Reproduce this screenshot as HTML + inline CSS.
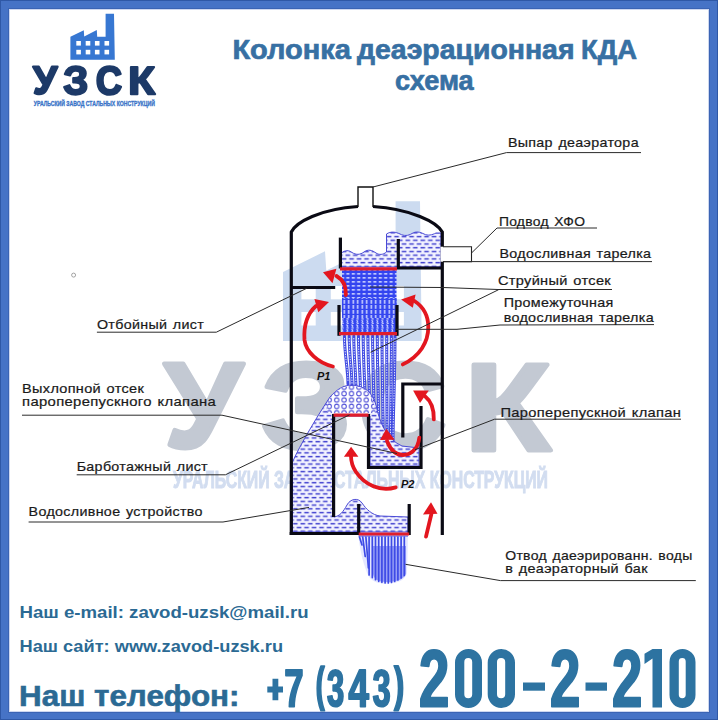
<!DOCTYPE html>
<html><head><meta charset="utf-8">
<style>
html,body{margin:0;padding:0;background:#fff;}
body{width:718px;height:720px;overflow:hidden;position:relative;}
svg{position:absolute;left:0;top:0;display:block;}
text{font-family:"Liberation Sans",sans-serif;}
</style></head>
<body>
<svg width="718" height="720" viewBox="0 0 718 720">
<defs>
  <filter id="soft" x="-5%" y="-5%" width="110%" height="110%"><feGaussianBlur stdDeviation="0.6"/></filter>
  <pattern id="water" width="7.5" height="7.46" patternUnits="userSpaceOnUse">
    <rect x="0.5" y="0.8" width="4.6" height="1.5" fill="#4343cf"/>
    <rect x="4.25" y="4.53" width="4.6" height="1.5" fill="#4343cf"/>
    <rect x="-3.25" y="4.53" width="4.6" height="1.5" fill="#4343cf"/>
  </pattern>
  <pattern id="jetA" width="5.4" height="4" patternUnits="userSpaceOnUse">
    <rect width="5.4" height="4" fill="#3344f0"/>
    <rect x="0.7" y="1.1" width="3.2" height="1.5" fill="#d0d6ff"/>
  </pattern>
  <pattern id="jetB" width="4.5" height="5" patternUnits="userSpaceOnUse">
    <rect width="4.5" height="5" fill="#3446f0"/>
    <rect x="1.5" y="0" width="1.5" height="3.8" fill="#d4daff"/>
  </pattern>
  <pattern id="jetC" width="5" height="4.5" patternUnits="userSpaceOnUse">
    <rect width="5" height="4.5" fill="#3446f0"/>
    <path d="M1,1.2 C2.5,0.3 3.5,1.8 2.3,2.6 C1.2,3.4 2.5,4.4 3.8,3.6" stroke="#d4daff" stroke-width="1" fill="none"/>
  </pattern>
  <pattern id="foam" width="7.4" height="6.4" patternUnits="userSpaceOnUse">
    <circle cx="3.7" cy="3.2" r="2.2" fill="none" stroke="#4a4ad6" stroke-width="1"/>
  </pattern>
  <g id="factory">
    <path d="M70.4,59.8 L70.4,36.8 L83.8,30.3 L84.2,36.4 L96.8,30.1 L97.2,36.8 L105.6,36.8 L105.6,13.8 L114,13.8 L114.8,59.8 Z"/>
  </g>
</defs>

<!-- frame -->
<rect x="0" y="0" width="718" height="720" fill="#4673c6"/>
<rect x="0.5" y="0.5" width="717" height="719" fill="none" stroke="#2f58a6" stroke-width="1"/>
<rect x="9" y="9" width="700" height="703" fill="#fff"/>
<rect x="8.5" y="8.5" width="701" height="704" fill="none" stroke="#3b64b4" stroke-width="1"/>
<rect x="9.5" y="9.5" width="699" height="702" fill="none" stroke="#cdd7f0" stroke-width="1"/>

<!-- watermark -->
<g id="wm" filter="url(#soft)">
  <path d="M283,341 L283,272 L325,251.3 L326.3,270.5 L365.5,251 L367,271.5 L395.6,271.5 L395.6,201.3 L420,201.3 L421.7,341 Z" fill="#ccdbf0"/>
  <g fill="#fff">
    <rect x="301.4" y="286" width="14.3" height="13.3"/><rect x="330.8" y="286" width="14.3" height="13.3"/><rect x="359.6" y="286" width="14.3" height="13.3"/><rect x="389.6" y="286" width="14.3" height="13.3"/>
    <rect x="301.4" y="312" width="14.3" height="13.5"/><rect x="330.8" y="312" width="14.3" height="13.5"/><rect x="359.6" y="312" width="14.3" height="13.5"/><rect x="389.6" y="312" width="14.3" height="13.5"/>
  </g>
  <g fill="#c3c9d3" stroke="#c3c9d3" stroke-width="4.5" stroke-linejoin="round">
<path d="M185.17 448.25Q180.8 448.25 176.49 447.22Q172.19 446.18 169.6 444.7L174.65 430.16Q180.13 432.64 184.49 432.64Q187.39 432.64 189.45 431.57Q191.51 430.51 193.32 428.17Q195.14 425.84 198.46 418.86L164.25 363.75H183.14L207.02 403.96L225.35 363.75H243.75L211.45 428.26Q207.2 436.78 203.66 440.71Q200.12 444.64 195.72 446.45Q191.32 448.25 185.17 448.25Z"/>
<path d="M305.94 449.25Q289.32 449.25 279.22 443.61Q269.11 437.97 264.25 426.09L282.84 420.54Q289.32 435.64 305.94 435.64Q315.03 435.64 319.75 432.45Q324.47 429.25 324.47 423.46Q324.47 417.43 318.87 414.78Q313.27 412.12 301.37 412.12H297.21V398.57H301.37Q312 398.57 317.07 395.7Q322.14 392.84 322.14 386.87Q322.14 381.43 317.81 378.57Q313.48 375.7 305.87 375.7Q290.94 375.7 285.59 390.45L266.72 386.81Q271.57 374.57 281.33 368.66Q291.08 362.75 306.23 362.75Q322.49 362.75 332.35 368.69Q342.21 374.63 342.21 384.66Q342.21 392.36 337.21 397.49Q332.21 402.63 322.49 404.72Q333.13 406.03 338.94 411.16Q344.75 416.3 344.75 424.18Q344.75 435.64 334.26 442.44Q323.76 449.25 305.94 449.25Z"/>
<path d="M405.73 435.41Q421.68 435.41 427.9 419.42L443.25 425.21Q438.29 437.38 428.7 443.31Q419.11 449.25 405.73 449.25Q385.42 449.25 374.33 437.77Q363.25 426.28 363.25 405.64Q363.25 384.94 373.94 373.85Q384.64 362.75 404.95 362.75Q419.77 362.75 429.09 368.69Q438.41 374.62 442.17 386.13L426.64 390.37Q424.67 384.05 418.9 380.32Q413.14 376.59 405.31 376.59Q393.36 376.59 387.18 383.99Q380.99 391.38 380.99 405.64Q380.99 420.14 387.36 427.77Q393.72 435.41 405.73 435.41Z"/>
<path d="M473.75 364.75H494.1V401.1Q497.69 401.1 501.8 397.37Q505.9 393.63 512.46 384.41L526.67 364.75H547.37L529.09 389.33Q520.53 400.79 517.29 402.92L550.75 450.25H528.6L502.8 411.41Q501.42 412.2 498.73 412.87Q496.04 413.54 494.03 413.54V450.25H473.75Z"/>
</g>

  <text x="173" y="487.5" font-size="23" font-weight="bold" fill="#d2ddf0" stroke="#d2ddf0" stroke-width="1" textLength="375" lengthAdjust="spacingAndGlyphs">УРАЛЬСКИЙ ЗАВОД СТАЛЬНЫХ КОНСТРУКЦИЙ</text>
</g>

<!-- logo -->
<g fill="#3777d2"><use href="#factory"/></g>
<g fill="#fff">
  <rect x="76.3" y="41" width="4.6" height="4.6"/><rect x="85.7" y="41" width="4.6" height="4.6"/><rect x="94.9" y="41" width="4.6" height="4.6"/><rect x="104.5" y="41" width="4.6" height="4.6"/>
  <rect x="76.3" y="49.8" width="4.6" height="4.6"/><rect x="85.7" y="49.8" width="4.6" height="4.6"/><rect x="94.9" y="49.8" width="4.6" height="4.6"/><rect x="104.5" y="49.8" width="4.6" height="4.6"/>
</g>
<g fill="#1d3a68" stroke="#1d3a68" stroke-width="2.2" stroke-linejoin="round">
<path d="M39.47 94.2Q38.12 94.2 36.79 93.86Q35.46 93.53 34.66 93.05L36.22 88.31Q37.91 89.12 39.26 89.12Q40.16 89.12 40.8 88.77Q41.43 88.43 42 87.67Q42.56 86.91 43.59 84.64L33 66.7H38.85L46.23 79.79L51.91 66.7H57.6L47.6 87.7Q46.29 90.47 45.2 91.75Q44.1 93.03 42.74 93.61Q41.38 94.2 39.47 94.2Z"/>
<path d="M75.7 94.6Q71.11 94.6 68.33 92.75Q65.54 90.91 64.2 87.02L69.33 85.21Q71.11 90.15 75.7 90.15Q78.2 90.15 79.5 89.1Q80.81 88.06 80.81 86.16Q80.81 84.19 79.26 83.32Q77.72 82.45 74.44 82.45H73.29V78.02H74.44Q77.37 78.02 78.77 77.08Q80.17 76.14 80.17 74.19Q80.17 72.41 78.97 71.48Q77.78 70.54 75.68 70.54Q71.56 70.54 70.09 75.36L64.88 74.17Q66.22 70.17 68.91 68.23Q71.6 66.3 75.78 66.3Q80.26 66.3 82.98 68.24Q85.7 70.19 85.7 73.47Q85.7 75.99 84.32 77.67Q82.94 79.35 80.26 80.03Q83.2 80.46 84.8 82.14Q86.4 83.82 86.4 86.4Q86.4 90.15 83.51 92.37Q80.61 94.6 75.7 94.6Z"/>
<path d="M109.93 90.16Q114.64 90.16 116.47 84.91L121 86.81Q119.54 90.8 116.71 92.75Q113.88 94.7 109.93 94.7Q103.94 94.7 100.67 90.93Q97.4 87.16 97.4 80.38Q97.4 73.59 100.55 69.94Q103.71 66.3 109.7 66.3Q114.07 66.3 116.82 68.25Q119.57 70.2 120.68 73.98L116.1 75.37Q115.52 73.29 113.82 72.07Q112.12 70.84 109.81 70.84Q106.28 70.84 104.46 73.27Q102.63 75.7 102.63 80.38Q102.63 85.14 104.51 87.65Q106.39 90.16 109.93 90.16Z"/>
<path d="M131 67.1H137.37V78.62Q138.49 78.62 139.78 77.44Q141.06 76.26 143.11 73.33L147.56 67.1H154.04L148.32 74.89Q145.64 78.52 144.63 79.2L155.1 94.2H148.17L140.09 81.89Q139.66 82.14 138.82 82.35Q137.98 82.56 137.35 82.56V94.2H131Z"/>
</g>
<text x="33.8" y="106.2" font-size="7" font-weight="bold" fill="#3a74c8" stroke="#3a74c8" stroke-width="0.35" textLength="121" lengthAdjust="spacingAndGlyphs">УРАЛЬСКИЙ ЗАВОД СТАЛЬНЫХ КОНСТРУКЦИЙ</text>

<!-- title -->
<text x="232.4" y="59.1" font-size="28" font-weight="bold" fill="#3770a3" stroke="#3770a3" stroke-width="0.7" textLength="118.6" lengthAdjust="spacingAndGlyphs">Колонка</text>
<text x="357.0" y="59.1" font-size="28" font-weight="bold" fill="#3770a3" stroke="#3770a3" stroke-width="0.7" textLength="217.5" lengthAdjust="spacingAndGlyphs">деаэрационная</text>
<text x="581.0" y="59.1" font-size="28" font-weight="bold" fill="#3770a3" stroke="#3770a3" stroke-width="0.7" textLength="56.0" lengthAdjust="spacingAndGlyphs">КДА</text>
<text x="395" y="89.7" font-size="28" font-weight="bold" fill="#3770a3" stroke="#3770a3" stroke-width="0.7" textLength="78.7" lengthAdjust="spacingAndGlyphs">схема</text>

<circle cx="73.6" cy="275.1" r="2" fill="none" stroke="#999" stroke-width="0.9"/>

<!-- DIAGRAM -->
<g id="diagram">
  <!-- upper tray water -->
  <path d="M341.5,267 L341.5,253 C345,250 349,250 352,252.5 C356,255 360,255 364,252 C368,249 372,250 376,253 C379,255 383,255 386.5,252 L386.5,234 C391,231 396,232 400,234 C404,236 408,236 412,233.5 C416,231 420,232 424,234 C428,236 432,235 436,233 L441,233 L441,267 Z" fill="#f3f3ff"/>
  <path d="M341.5,267 L341.5,253 C345,250 349,250 352,252.5 C356,255 360,255 364,252 C368,249 372,250 376,253 C379,255 383,255 386.5,252 L386.5,234 C391,231 396,232 400,234 C404,236 408,236 412,233.5 C416,231 420,232 424,234 C428,236 432,235 436,233 L441,233 L441,267 Z" fill="url(#water)" stroke="#4a4ad6" stroke-width="1"/>

  <!-- jet section -->
  <rect x="342" y="270" width="54.5" height="62.5" fill="url(#jetA)"/>
  <rect x="342" y="298" width="54.5" height="20" fill="url(#jetB)"/>
  <rect x="342" y="318" width="54.5" height="14.5" fill="url(#jetC)"/>

  <!-- falling jets -->
  <g stroke="#3f4ae2" stroke-width="3" fill="none" stroke-linecap="round">
    <path d="M344.5,336 C344.5,355.2 348,369.6 348,384"/>
    <path d="M349.2,336 C349.2,356.0 352,371.0 352,386"/>
    <path d="M353.8,336 C353.8,357.6 356,373.8 356,390"/>
    <path d="M358.5,336 C358.5,359.2 360.5,376.6 360.5,394"/>
    <path d="M363.2,336 C363.2,361.6 365,380.8 365,400"/>
    <path d="M367.9,336 C367.9,363.6 369.5,384.3 369.5,405"/>
    <path d="M372.6,336 C372.6,366.4 374,389.2 374,412"/>
    <path d="M377.3,336 C377.3,369.6 378.5,394.8 378.5,420"/>
    <path d="M382,336 C382,372.8 383,400.4 383,428"/>
    <path d="M386.7,336 C386.7,376.0 387,406.0 387,436"/>
    <path d="M391.4,336 C391.4,378.4 390.5,410.2 390.5,442"/>
    <path d="M395,336 C395,380.0 393,413.0 393,446"/>
  </g>
  <g stroke="#e6e9ff" stroke-width="1" fill="none" stroke-dasharray="1.4 1.2">
    <path d="M344.5,338 C344.5,355.2 348,369.6 348,382"/>
    <path d="M349.2,338 C349.2,356.0 352,371.0 352,384"/>
    <path d="M353.8,338 C353.8,357.6 356,373.8 356,388"/>
    <path d="M358.5,338 C358.5,359.2 360.5,376.6 360.5,392"/>
    <path d="M363.2,338 C363.2,361.6 365,380.8 365,398"/>
    <path d="M367.9,338 C367.9,363.6 369.5,384.3 369.5,403"/>
    <path d="M372.6,338 C372.6,366.4 374,389.2 374,410"/>
    <path d="M377.3,338 C377.3,369.6 378.5,394.8 378.5,418"/>
    <path d="M382,338 C382,372.8 383,400.4 383,426"/>
    <path d="M386.7,338 C386.7,376.0 387,406.0 387,434"/>
    <path d="M391.4,338 C391.4,378.4 390.5,410.2 390.5,440"/>
    <path d="M395,338 C395,380.0 393,413.0 393,444"/>
  </g>

  <!-- lower water -->
  <path d="M292.5,462 C300,445 318,415 330,397 C338,388 345,385 352,385 C365,386 372,392 376,405 C380,425 388,440 402,446 L419,448 L419,466 L370,466 L370,416 L334,416 L334,517 C340,516 343,512 347,505 C350,499 358,497 362,503 C366,509 372,515 380,516 L408,517 L408,532 L292.5,532 Z" fill="#f3f3ff"/>
  <path d="M292.5,462 C300,445 318,415 330,397 C338,388 345,385 352,385 C365,386 372,392 376,405 C380,425 388,440 402,446 L419,448 L419,466 L370,466 L370,416 L334,416 L334,517 C340,516 343,512 347,505 C350,499 358,497 362,503 C366,509 372,515 380,516 L408,517 L408,532 L292.5,532 Z" fill="url(#water)" stroke="#4a4ad6" stroke-width="1"/>
  <!-- foam -->
  <path d="M327,403 C334,391 342,386 352,386 C364,387 371,393 374,404 L376,413 L327,413 Z" fill="#fff"/>
  <path d="M327,403 C334,391 342,386 352,386 C364,387 371,393 374,404 L376,413 L327,413 Z" fill="url(#foam)"/>

  <!-- bottom jets -->
  <path d="M358.5,536 L408,536 L407,573 C405,580 398,583.5 387,583.5 C376,583.5 371,581 368,575 C364,566 360,552 358.5,536 Z" fill="#e4e7ff"/>
  <path d="M372,546 L406,546 L406,574 C403,580 396,582 386,582 C378,582 374,579 373,574 Z" fill="#3a48ec" opacity="0.45"/>
  <g stroke="#3d4ae6" stroke-width="1.7" fill="none" stroke-linecap="round">
    <path d="M359.5,537 L362.0,545.0"/>
    <path d="M362.7,537 L365.2,556.5"/>
    <path d="M365.9,537 L368.4,568.0"/>
    <path d="M369.1,537 L369.1,575.0"/>
    <path d="M372.3,537 L372.3,577.6"/>
    <path d="M375.5,537 L375.5,579.7"/>
    <path d="M378.7,537 L378.7,581.3"/>
    <path d="M381.9,537 L381.9,582.3"/>
    <path d="M385.1,537 L385.1,582.9"/>
    <path d="M388.3,537 L388.3,583.0"/>
    <path d="M391.5,537 L391.5,582.5"/>
    <path d="M394.7,537 L394.7,581.5"/>
    <path d="M397.9,537 L397.9,580.0"/>
    <path d="M401.1,537 L401.1,578.0"/>
    <path d="M404.3,537 L404.3,575.5"/>
  </g>
  <path d="M358.5,536 L408,536" stroke="#3d4ae6" stroke-width="1"/>

  <!-- vessel black -->
  <g fill="none" stroke="#0a0a14" stroke-width="3.2" stroke-linecap="butt">
    <path d="M291.3,535 L291.3,232 C296,222 320,209 358,206.5"/>
    <path d="M373,206.5 C411,209 437,222 442.3,232 L442.3,535"/>
    <path d="M289.7,533.5 L358.7,533.5 L358.7,504"/>
    <path d="M409.2,504 L409.2,535"/>
    <path d="M291,287.5 L335.2,287.5"/>
    <path d="M340.4,237.6 L340.4,268.5"/>
    <path d="M398.3,239 L398.3,268 L442,268"/>
    <path d="M339,305 L339,335.8"/>
    <path d="M397,305 L397,335.8"/>
    <path d="M333.6,414 L333.6,517"/>
    <path d="M368.5,414 L368.5,467.5 L421,467.5 L421,406"/>
    <path d="M402.8,437.5 L402.8,384 L442,384"/>
  </g>
  <!-- nozzle -->
  <path d="M358,207 L358,187 L373,187 L373,207" fill="none" stroke="#111" stroke-width="1.4"/>
  <!-- inlet pipe -->
  <rect x="440.5" y="246.7" width="31" height="15" fill="#fff"/>
  <path d="M443,246.7 H471.5 V261.8 H443" fill="none" stroke="#222" stroke-width="1.1"/>

  <!-- red lines -->
  <g stroke="#e01e2c" stroke-width="3.2" fill="none">
    <path d="M340,268.8 L397,268.8"/>
    <path d="M339,333.6 L397,333.6"/>
    <path d="M333.6,415.2 L368.5,415.2"/>
    <path d="M358.7,534 L409.2,534"/>
  </g>

  <!-- red arrows -->
  <g stroke="#e3161f" stroke-width="3.8" fill="none" stroke-linecap="round">
    <path d="M345.9,295 C346.2,287 343.6,280 336.5,276"/>
    <path d="M332.9,366.5 C318,363 306,352 304.5,340 C303.5,325 308,313 316,306"/>
    <path d="M402.8,364.4 C420,356 428.3,342 428.3,327 C428.3,315 422,306 414.5,301"/>
    <path d="M433.8,419.4 C434,409 431,401 425,396.3"/>
    <path d="M419.3,437.6 C418,450 410,455 403,455 C395,455 390,449 387,441"/>
    <path d="M395.7,487.4 C380,492 365,485 356,472 C352,466 351,461 351,456"/>
    <path d="M426,536.6 L431.4,514"/>
  </g>
  <g fill="#e3161f">
    <path d="M323,272.3 L336.4,268.7 L332.5,283.2 Z"/>
    <path d="M329,302 L314.4,299 L318.3,312.3 Z"/>
    <path d="M401.1,299.4 L415.6,294.4 L412.8,307.8 Z"/>
    <path d="M413.1,390.6 L428.8,390.6 L420,403.1 Z"/>
    <path d="M386.3,428.8 L380,440.1 L394.6,439.7 Z"/>
    <path d="M351.1,446.7 L343.9,456.7 L358.4,456.7 Z"/>
    <path d="M431,502.2 L423,514.4 L437.5,513.7 Z"/>
  </g>

  <!-- P labels -->
  <text x="317" y="380" font-size="11" font-weight="bold" font-style="italic" fill="#111">P1</text>
  <text x="401" y="487.8" font-size="11" font-weight="bold" font-style="italic" fill="#111">P2</text>

  <!-- leader lines -->
  <g stroke="#2a2a2a" stroke-width="1" fill="none">
    <path d="M373,187 L506.5,152.6 L641,152.6"/>
    <path d="M471.5,253 L497,228 L597,228"/>
    <path d="M443,261.6 L652,261.6"/>
    <path d="M370,287 L443,287.5 L498,289.5 L612,289.5"/>
    <path d="M498.6,289.7 L370.6,352.3"/>
    <path d="M395,329.3 L457,329.3 L500,325 L654,324.6"/>
    <path d="M415,449.7 L494.6,419.2 L681,419.2"/>
    <path d="M96.9,332.2 L216.3,332.2 L306.5,288.4"/>
    <path d="M22,415.2 L222,415.2 L397,453.5"/>
    <path d="M76.7,474.8 L225.4,474.8 L349.6,414.8"/>
    <path d="M28.6,522 L223,522 L309,507.4"/>
    <path d="M405.5,564.3 L500.4,580.6 L695.8,580.6"/>
  </g>

  <!-- labels -->
  <g font-size="13.5" fill="#1a1a1a" stroke="#1a1a1a" stroke-width="0.22" letter-spacing="0.3" word-spacing="1.2">
    <text x="507.9" y="147" textLength="131" lengthAdjust="spacingAndGlyphs">Выпар деаэратора</text>
    <text x="498.9" y="225.6" textLength="86.4" lengthAdjust="spacingAndGlyphs">Подвод ХФО</text>
    <text x="499.5" y="258" textLength="151.8" lengthAdjust="spacingAndGlyphs">Водосливная тарелка</text>
    <text x="498" y="285" textLength="113" lengthAdjust="spacingAndGlyphs">Струйный отсек</text>
    <text x="503.7" y="306.5" textLength="110" lengthAdjust="spacingAndGlyphs">Промежуточная</text>
    <text x="503.7" y="321.8" textLength="150.3" lengthAdjust="spacingAndGlyphs">водосливная тарелка</text>
    <text x="500.5" y="416.9" textLength="180.7" lengthAdjust="spacingAndGlyphs">Пароперепускной клапан</text>
    <text x="505.2" y="559.5" textLength="187.4" lengthAdjust="spacingAndGlyphs">Отвод даеэрированн. воды</text>
    <text x="505.2" y="573.2" textLength="142.6" lengthAdjust="spacingAndGlyphs">в деаэраторный бак</text>
    <text x="96.9" y="329.1" textLength="107.2" lengthAdjust="spacingAndGlyphs">Отбойный лист</text>
    <text x="22.1" y="393.4" textLength="122" lengthAdjust="spacingAndGlyphs">Выхлопной отсек</text>
    <text x="22.1" y="406.3" textLength="194" lengthAdjust="spacingAndGlyphs">пароперепускного клапана</text>
    <text x="76.7" y="471.3" textLength="131.3" lengthAdjust="spacingAndGlyphs">Барботажный лист</text>
    <text x="28.6" y="516.3" textLength="174.2" lengthAdjust="spacingAndGlyphs">Водосливное устройство</text>
  </g>
</g>

<!-- bottom text -->
<text x="19.5" y="618.4" font-size="16" font-weight="bold" fill="#2b6a94" textLength="289" lengthAdjust="spacingAndGlyphs">Наш e-mail: zavod-uzsk@mail.ru</text>
<text x="19.5" y="651.5" font-size="16" font-weight="bold" fill="#2b6a94" textLength="263.5" lengthAdjust="spacingAndGlyphs">Наш сайт: www.zavod-uzsk.ru</text>
<text x="19" y="705.8" font-size="30" font-weight="bold" fill="#2b6a94" stroke="#2b6a94" stroke-width="0.6" textLength="220.5" lengthAdjust="spacingAndGlyphs">Наш телефон:</text>
<g id="phone" fill="#2d73a1" stroke="#2d73a1" stroke-width="1.6" stroke-linejoin="round">
<path d="M420.8 706.7V698.94Q422.27 694.13 424.99 689.55Q427.71 684.97 431.83 680Q435.79 675.23 437.39 672.12Q438.98 669.02 438.98 666.03Q438.98 658.71 434.03 658.71Q431.62 658.71 430.35 660.64Q429.07 662.57 428.7 666.43L421.12 665.8Q421.76 658 425.04 653.9Q428.32 649.8 433.97 649.8Q440.08 649.8 443.34 653.94Q446.61 658.08 446.61 665.56Q446.61 669.5 445.57 672.68Q444.52 675.86 442.89 678.55Q441.26 681.23 439.26 683.58Q437.27 685.93 435.39 688.16Q433.52 690.39 431.98 692.65Q430.44 694.92 429.69 697.51H447.2V706.7Z"/>
<path d="M455,662.5 A13.5,13.5 0 0 1 482,662.5 L482,694.5 A13.5,13.5 0 0 1 455,694.5 Z M464.3,661.95 A3.9499999999999886,3.9499999999999886 0 0 1 472.2,661.95 L472.2,694.3499999999999 A3.9499999999999886,3.9499999999999886 0 0 1 464.3,694.3499999999999 Z" fill-rule="evenodd" stroke="none"/>
<path d="M487.7,662.65 A13.650000000000006,13.650000000000006 0 0 1 515,662.65 L515,694.35 A13.650000000000006,13.650000000000006 0 0 1 487.7,694.35 Z M497.0,662.1 A4.099999999999994,4.099999999999994 0 0 1 505.2,662.1 L505.2,694.1999999999999 A4.099999999999994,4.099999999999994 0 0 1 497.0,694.1999999999999 Z" fill-rule="evenodd" stroke="none"/>
<path d="M523,682.5 H545 V690.7 H523 Z" fill-rule="evenodd" stroke="none"/>
<path d="M551.8 706.7V698.94Q553.27 694.13 555.99 689.55Q558.71 684.97 562.83 680Q566.79 675.23 568.39 672.12Q569.98 669.02 569.98 666.03Q569.98 658.71 565.03 658.71Q562.62 658.71 561.35 660.64Q560.07 662.57 559.7 666.43L552.12 665.8Q552.76 658 556.04 653.9Q559.32 649.8 564.97 649.8Q571.08 649.8 574.34 653.94Q577.61 658.08 577.61 665.56Q577.61 669.5 576.57 672.68Q575.52 675.86 573.89 678.55Q572.26 681.23 570.26 683.58Q568.27 685.93 566.39 688.16Q564.52 690.39 562.98 692.65Q561.44 694.92 560.69 697.51H578.2V706.7Z"/>
<path d="M585.5,682.5 H607 V690.7 H585.5 Z" fill-rule="evenodd" stroke="none"/>
<path d="M613.8 706.7V698.94Q615.27 694.13 617.99 689.55Q620.71 684.97 624.83 680Q628.79 675.23 630.39 672.12Q631.98 669.02 631.98 666.03Q631.98 658.71 627.03 658.71Q624.62 658.71 623.35 660.64Q622.07 662.57 621.7 666.43L614.12 665.8Q614.76 658 618.04 653.9Q621.32 649.8 626.97 649.8Q633.08 649.8 636.34 653.94Q639.61 658.08 639.61 665.56Q639.61 669.5 638.57 672.68Q637.52 675.86 635.89 678.55Q634.26 681.23 632.26 683.58Q630.27 685.93 628.39 688.16Q626.52 690.39 624.98 692.65Q623.44 694.92 622.69 697.51H640.2V706.7Z"/>
<path d="M652.5,649 H662 V707.5 H652.5 V658.5 L644.5,664 V653.8 Z" fill-rule="evenodd" stroke="none"/>
<path d="M669.5,662.0 A13.0,13.0 0 0 1 695.5,662.0 L695.5,695.0 A13.0,13.0 0 0 1 669.5,695.0 Z M678.8,661.45 A3.4500000000000455,3.4500000000000455 0 0 1 685.7,661.45 L685.7,694.8499999999999 A3.4500000000000455,3.4500000000000455 0 0 1 678.8,694.8499999999999 Z" fill-rule="evenodd" stroke="none"/>
<path d="M272.5,678.8 H278.3 V686.6 H283 V692.4 H278.3 V700.2 H272.5 V692.4 H267.3 V686.6 H272.5 Z" fill-rule="evenodd" stroke="none"/>
<path d="M302 675.57Q300.41 679.52 298.99 683.23Q297.58 686.95 296.52 690.7Q295.47 694.45 294.85 698.41Q294.24 702.38 294.24 706.8H289.33Q289.33 702.17 290.11 697.83Q290.88 693.5 292.33 689.01Q293.79 684.52 297.63 675.78H285.9V669.7H302Z"/>
<path d="M320.95 710.7Q318.97 705.41 318.08 700.14Q317.2 694.87 317.2 688.31Q317.2 681.78 318.08 676.53Q318.97 671.27 320.95 666H324.5Q322.5 671.34 321.6 676.63Q320.7 681.92 320.7 688.34Q320.7 694.73 321.6 699.99Q322.49 705.24 324.5 710.7Z"/>
<path d="M343 696.23Q343 701.28 341.05 704.04Q339.09 706.8 335.49 706.8Q332.07 706.8 330.06 704.13Q328.05 701.46 327.7 696.43L332 695.8Q332.4 700.98 335.47 700.98Q336.99 700.98 337.83 699.7Q338.67 698.43 338.67 695.8Q338.67 693.39 337.65 692.12Q336.63 690.84 334.61 690.84H333.14V685.05H334.52Q336.34 685.05 337.26 683.78Q338.18 682.52 338.18 680.17Q338.18 677.95 337.45 676.68Q336.72 675.42 335.32 675.42Q334.01 675.42 333.21 676.65Q332.4 677.87 332.28 680.12L328.06 679.61Q328.39 674.96 330.33 672.33Q332.27 669.7 335.4 669.7Q338.72 669.7 340.59 672.24Q342.46 674.78 342.46 679.28Q342.46 682.65 341.29 684.82Q340.13 686.99 337.94 687.7V687.8Q340.37 688.29 341.68 690.52Q343 692.76 343 696.23Z"/>
<path d="M365.32 699.24V706.8H360.51V699.24H349V693.69L359.69 669.7H365.32V693.74H368.7V699.24ZM360.51 681.6Q360.51 680.18 360.57 678.52Q360.64 676.86 360.67 676.39Q360.21 677.86 358.98 680.65L353.11 693.74H360.51Z"/>
<path d="M389.4 696.23Q389.4 701.28 387.36 704.04Q385.31 706.8 381.54 706.8Q377.97 706.8 375.87 704.13Q373.76 701.46 373.4 696.43L377.9 695.8Q378.32 700.98 381.53 700.98Q383.11 700.98 383.99 699.7Q384.87 698.43 384.87 695.8Q384.87 693.39 383.8 692.12Q382.74 690.84 380.63 690.84H379.09V685.05H380.54Q382.44 685.05 383.4 683.78Q384.35 682.52 384.35 680.17Q384.35 677.95 383.59 676.68Q382.83 675.42 381.37 675.42Q380 675.42 379.16 676.65Q378.32 677.87 378.19 680.12L373.78 679.61Q374.12 674.96 376.15 672.33Q378.18 669.7 381.45 669.7Q384.92 669.7 386.88 672.24Q388.83 674.78 388.83 679.28Q388.83 682.65 387.62 684.82Q386.4 686.99 384.1 687.7V687.8Q386.65 688.29 388.02 690.52Q389.4 692.76 389.4 696.23Z"/>
<path d="M394.1 710.7Q396.45 705.2 397.49 699.94Q398.53 694.68 398.53 688.24Q398.53 681.77 397.47 676.44Q396.41 671.12 394.1 665.8H398.23Q400.56 671.14 401.58 676.43Q402.6 681.72 402.6 688.21Q402.6 694.75 401.58 700.05Q400.56 705.34 398.23 710.7Z"/>
</g>

</svg>
</body></html>
